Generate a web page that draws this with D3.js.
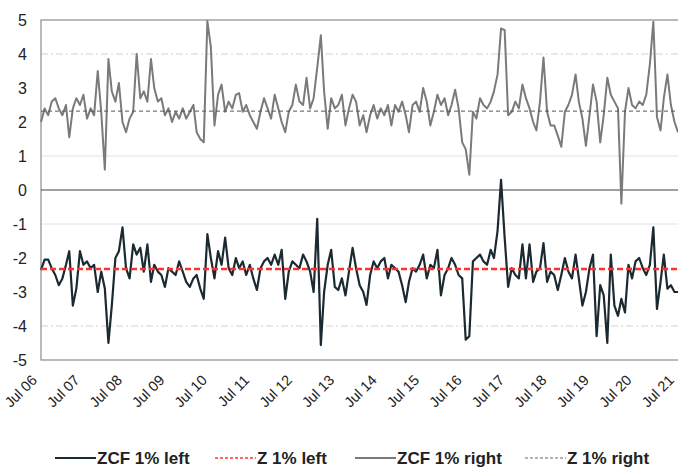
<!DOCTYPE html>
<html lang="en">
<head>
  <meta charset="UTF-8">
  <title>ZCF 1% left / right</title>
  <script src="https://d3js.org/d3.v7.min.js"></script>
  <style>
    body {
      margin: 0;
      background: #fff;
      font-family: "Liberation Sans", Arial, sans-serif;
    }
    .tick-label {
      fill: #222;
    }
    .legend-text {
      fill: #222;
      font-weight: bold;
      font-size: 17px;
    }
  </style>
</head>
<body>
  <div id="chart"></div>
  <script>
    // monthly observations, Jul 2006 .. Jul 2021
    const months = d3.timeMonth.range(new Date(2006, 6, 1), new Date(2021, 7, 1));

    const zcfRight = [
      2.0, 2.4, 2.2, 2.6, 2.7, 2.4, 2.2, 2.5, 1.55, 2.4, 2.7, 2.5,
      2.8, 2.1, 2.4, 2.2, 3.5, 2.3, 0.6, 3.85, 2.9, 2.6, 3.15, 2.0,
      1.7, 2.1, 2.3, 4.0, 2.7, 2.9, 2.6, 3.85, 3.0, 2.6, 2.7, 2.2,
      2.4, 2.0, 2.3, 2.1, 2.4, 2.1, 2.3, 2.5, 1.7, 1.5, 1.4, 4.97,
      4.2, 1.9, 2.8, 3.1, 2.3, 2.6, 2.4, 2.8, 2.85, 2.3, 2.5, 2.2,
      2.0, 1.8, 2.3, 2.7, 2.4, 2.1, 2.8, 2.4, 2.0, 1.7, 2.3, 2.5,
      3.1, 2.6, 2.5, 3.3, 2.4, 2.7, 3.6, 4.55, 2.9, 1.8, 2.7, 2.4,
      2.5, 2.8, 1.9, 2.4, 2.8, 2.6, 1.9, 2.2, 1.7, 2.2, 2.5, 2.1,
      2.4, 2.2, 2.5, 1.9, 2.5, 2.3, 2.6, 2.2, 1.7, 2.5, 2.6, 2.3,
      3.0, 2.6, 1.9, 2.3, 2.8, 2.5, 2.7, 2.2, 2.5, 2.95, 2.4, 1.4,
      1.2, 0.45, 2.3, 2.1, 2.7, 2.5, 2.4, 2.6, 2.9, 3.4, 4.75, 4.7,
      2.2, 2.3, 2.6, 2.4, 3.1, 2.7, 2.4, 2.0, 1.75, 2.6, 3.9, 2.3,
      1.9, 1.9, 1.6, 1.27, 2.3, 2.5, 2.8, 3.4, 2.6, 2.1, 1.3, 2.2,
      3.1, 2.6, 1.4, 2.2, 3.3, 2.8, 2.6, 2.4, -0.4, 2.3, 3.0, 2.5,
      2.4, 2.6, 2.5, 2.8, 3.7, 4.95, 2.15, 1.75, 2.7, 3.4, 2.5, 2.0,
      1.7
    ];

    const zcfLeft = [
      -2.35, -2.05, -2.05, -2.3, -2.5, -2.8, -2.6, -2.2, -1.8, -3.4, -2.9, -1.8,
      -2.2, -2.1, -2.3, -2.2, -3.0, -2.4, -2.9, -4.5, -3.4, -2.0, -1.8, -1.1,
      -2.3, -2.6, -1.6, -1.9, -1.7, -2.4, -1.6, -2.7, -2.2, -2.4, -2.5, -2.85,
      -2.3, -2.4, -2.5, -2.1, -2.4, -2.7, -2.85, -2.6, -2.5, -2.9, -3.2, -1.3,
      -2.0, -2.6, -1.8, -2.2, -1.4, -2.3, -2.5, -2.0, -2.3, -2.1, -2.5, -2.2,
      -2.6, -2.94, -2.3, -2.1, -2.0, -2.2, -1.9, -2.2, -1.76, -3.2, -2.4, -2.1,
      -2.2, -2.3, -1.9, -2.1, -2.4, -3.0, -0.85, -4.56, -3.0, -2.2, -1.76, -2.85,
      -2.94, -2.6, -3.1, -2.4, -1.7, -2.3, -2.8, -3.0, -3.38, -2.5, -2.1, -2.3,
      -2.1, -2.0, -2.6, -2.2, -2.3, -2.4, -2.8, -3.3, -2.7, -2.3, -2.4, -2.2,
      -1.9, -2.6, -2.2, -2.3, -1.76, -3.1, -2.5, -2.3, -2.0, -2.2, -2.5, -2.6,
      -4.4, -4.3, -2.1, -2.0, -1.9, -2.1, -2.2, -1.76, -2.0, -1.2, 0.3, -1.4,
      -2.85, -2.3, -2.5, -2.6, -1.6, -2.6, -1.6, -2.7, -2.4, -2.3, -1.56, -2.7,
      -2.4, -2.5, -2.94, -2.5, -2.0, -2.4, -2.6, -1.9, -2.6, -3.4, -3.0, -2.3,
      -1.9, -4.3, -2.8, -3.1, -4.5, -1.9, -3.4, -3.7, -3.2, -3.6, -2.2, -2.6,
      -2.1, -2.0, -2.3, -2.5, -2.2, -1.1, -3.5, -2.7, -1.9, -2.9, -2.8, -3.0,
      -3.0
    ];

    const zLeft = -2.32;
    const zRight = 2.32;

    const yTicks = [5, 4, 3, 2, 1, 0, -1, -2, -3, -4, -5];
    const gridLines = [4, 1, -1, -4];
    const xTickYears = d3.range(2006, 2022);

    const legendItems = [
      {label: "ZCF 1% left", color: "#1b2a31", dash: null, width: 2},
      {label: "Z 1% left", color: "#ff3b3b", dash: "3,2", width: 1.5},
      {label: "ZCF 1% right", color: "#7a7a7a", dash: null, width: 2},
      {label: "Z 1% right", color: "#666", dash: "3,2", width: 1}
    ];

    const W = 678, H = 467;
    const margin = {top: 20, bottom: 107, left: 41};

    const svg = d3.select("#chart")
      .append("svg")
      .attr("width", W)
      .attr("height", H);

    const x = d3.scaleTime()
      .domain([new Date(2006, 6, 1), new Date(2021, 6, 1)])
      .range([margin.left, 678]);

    const y = d3.scaleLinear()
      .domain([-5, 5])
      .range([H - margin.bottom, margin.top]);

    // faint gridlines
    svg.append("g")
      .selectAll("line")
      .data(gridLines)
      .enter().append("line")
      .attr("x1", margin.left)
      .attr("x2", W)
      .attr("y1", d => y(d))
      .attr("y2", d => y(d))
      .attr("stroke", d => Math.abs(d) === 4 ? "#d0d0d0" : "#e2e2e2")
      .attr("stroke-dasharray", d => Math.abs(d) === 4 ? "7,3,2,3" : null)
      .attr("stroke-width", 1);

    // plot frame
    svg.append("rect")
      .attr("x", margin.left)
      .attr("y", y(5))
      .attr("width", W + 20 - margin.left)
      .attr("height", y(-5) - y(5))
      .attr("fill", "none")
      .attr("stroke", "#8c8c8c")
      .attr("stroke-width", 1.2);

    // zero line
    svg.append("line")
      .attr("x1", margin.left)
      .attr("x2", W)
      .attr("y1", y(0))
      .attr("y2", y(0))
      .attr("stroke", "#444")
      .attr("stroke-width", 1.2);

    const line = d3.line()
      .x((d, i) => x(months[i]))
      .y(d => y(d));

    // right-hand series (upper)
    svg.append("path")
      .datum(zcfRight)
      .attr("fill", "none")
      .attr("stroke", "#7a7a7a")
      .attr("stroke-width", 2)
      .attr("stroke-linejoin", "round")
      .attr("d", line);

    svg.append("line")
      .attr("x1", margin.left)
      .attr("x2", W)
      .attr("y1", y(zRight))
      .attr("y2", y(zRight))
      .attr("stroke", "#555")
      .attr("stroke-width", 1)
      .attr("stroke-dasharray", "4,3");

    // left-hand series (lower)
    svg.append("path")
      .datum(zcfLeft)
      .attr("fill", "none")
      .attr("stroke", "#1b2a31")
      .attr("stroke-width", 2.2)
      .attr("stroke-linejoin", "round")
      .attr("d", line);

    svg.append("line")
      .attr("x1", margin.left)
      .attr("x2", W)
      .attr("y1", y(zLeft))
      .attr("y2", y(zLeft))
      .attr("stroke", "#ff3030")
      .attr("stroke-width", 2.5)
      .attr("stroke-dasharray", "6,3");

    // y labels
    svg.append("g")
      .selectAll("text")
      .data(yTicks)
      .enter().append("text")
      .attr("class", "tick-label")
      .attr("x", 27)
      .attr("y", d => y(d))
      .attr("dy", "0.35em")
      .attr("text-anchor", "end")
      .style("font-size", "16px")
      .text(d => d);

    // x labels, rotated
    const fmt = d3.timeFormat("%b %y");
    svg.append("g")
      .selectAll("text")
      .data(xTickYears)
      .enter().append("text")
      .attr("class", "tick-label")
      .attr("transform", d => "translate(" + (x(new Date(d, 6, 1)) - 3) + "," + 381 + ") rotate(-45)")
      .attr("text-anchor", "end")
      .style("font-size", "14.5px")
      .text(d => fmt(new Date(d, 6, 1)));

    // legend
    const legendX = [55, 215, 355, 525];
    const legend = svg.append("g")
      .selectAll("g")
      .data(legendItems)
      .enter().append("g")
      .attr("transform", (d, i) => "translate(" + legendX[i] + ",458)");

    legend.append("line")
      .attr("x1", 0)
      .attr("x2", 41)
      .attr("stroke", d => d.color)
      .attr("stroke-width", d => d.width)
      .attr("stroke-dasharray", d => d.dash);

    legend.append("text")
      .attr("class", "legend-text")
      .attr("x", 42)
      .attr("dy", "0.36em")
      .text(d => d.label);
  </script>
</body>
</html>
